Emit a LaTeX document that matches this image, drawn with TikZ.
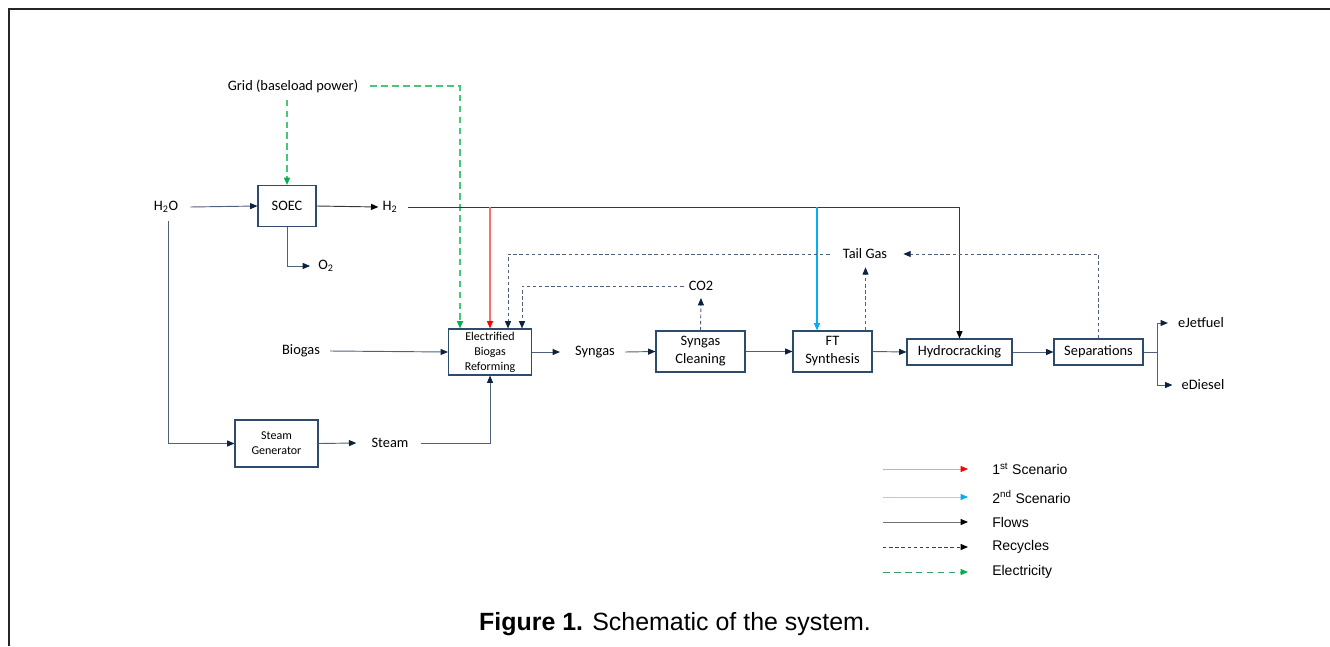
\documentclass[tikz,border=0pt]{standalone}
\usepackage{fontspec}
\setmainfont{Carlito}
\newfontfamily\legfont{Liberation Sans}
\usetikzlibrary{arrows.meta,calc}
\definecolor{boxc}{RGB}{47,75,108}
\definecolor{flowc}{RGB}{80,96,120}
\definecolor{headc}{RGB}{12,35,64}
\definecolor{hline}{RGB}{55,55,55}
\definecolor{redl}{RGB}{255,110,110}
\definecolor{redh}{RGB}{255,0,0}
\definecolor{bluel}{RGB}{0,176,240}
\definecolor{bluell}{RGB}{150,215,240}
\definecolor{greenl}{RGB}{70,200,120}
\definecolor{greenh}{RGB}{0,176,80}
\tikzset{
  box/.style 2 args={draw=boxc, line width=0.8pt, inner sep=0pt, align=center,
     minimum width=#1*0.75pt, minimum height=#2*0.75pt, font=\fontsize{10.8}{13.5}\selectfont},
  smallbox/.style={font=\fontsize{9}{11.3}\selectfont},
  lbl/.style={inner sep=0pt, font=\fontsize{10.8}{13}\selectfont},
  tip/.style={-{Triangle[length=5.5pt,width=4.5pt,color=#1]}},
  flow/.style={draw=flowc, line width=0.7pt, tip=headc},
  hflow/.style={draw=hline, line width=0.7pt, tip=black},
  redflow/.style={draw=redl, line width=0.95pt, tip=redh},
  blueflow/.style={draw=bluel, line width=0.9pt, tip=bluel},
  recyc/.style={draw=flowc, line width=0.7pt, dash pattern=on 2.6pt off 2pt, tip=headc},
  elec/.style={draw=greenl, line width=0.95pt, dash pattern=on 5pt off 3.2pt, tip=greenh},
  legtext/.style={inner sep=0pt, anchor=west, font=\legfont\fontsize{10.5}{13}\selectfont},
}
\begin{document}
\begin{tikzpicture}[x=0.75pt,y=-0.75pt]
\useasboundingbox (0,0) rectangle (1330,646);
% frame
\draw[line width=1.6pt, black!85] (9,646) -- (9,9) -- (1331,9);

% labels
\node[lbl] (grid) at (293,86) {Grid (baseload power)};
\node[lbl] (h2o) at (166,207) {H\textsubscript{2}O};
\node[lbl] (h2) at (390,207) {H\textsubscript{2}};
\node[lbl] (o2) at (326,266) {O\textsubscript{2}};
\node[lbl] (biogas) at (301,351) {Biogas};
\node[lbl] (steam) at (390,443) {Steam};
\node[lbl] (syngas) at (595,352) {Syngas};
\node[lbl] (co2) at (701,286) {CO2};
\node[lbl] (tail) at (865,254) {Tail Gas};
\node[lbl] (ejet) at (1201,323) {eJetfuel};
\node[lbl] (ediesel) at (1203,385) {eDiesel};

% boxes
\node[box={58}{41}] (soec) at (287,206) {SOEC};
\node[box={83}{47}, smallbox] (sg) at (276.5,443.5) {Steam\\Generator};
\node[box={83}{46}, smallbox] (ref) at (490,352) {Electrified\\Biogas\\Reforming};
\node[box={89}{41}] (clean) at (700.5,351.5) {Syngas\\Cleaning};
\node[box={79}{41}] (ft) at (832.5,351.5) {FT\\Synthesis};
\node[box={105}{26}] (hyd) at (959.5,352) {Hydrocracking};
\node[box={89}{26}] (sep) at (1098.5,352) {Separations};

% electricity
\draw[elec] ($(soec.north |- grid.south)+(0,7)$) -- (soec.north);
\draw[elec] ($(grid.east)+(12,0)$) -| ($(ref.north)+(-30,0)$);

% main flows
\draw[flow] ($(h2o.east)+(12,0)$) -- (soec.west);
\draw[hflow] (soec.east) -- ($(h2.west)+(-4,0)$);
\draw[hflow] ($(h2.east)+(10,0)$) -| (hyd.north);
\draw[redflow] (ref.north |- h2) -- (ref.north);
\coordinate (ftin) at ($(ft.north)+(-15.5,0)$);
\draw[blueflow] (ftin |- h2) -- (ftin);
\draw[flow] (soec.south) |- ($(o2.west)+(-8,0)$);
\draw[flow] ($(h2o.south)+(2,8)$) |- (sg.west);
\draw[flow] (sg.east) -- ($(steam.west)+(-15,0)$);
\draw[flow] ($(steam.east)+(12,0)$) -| (ref.south);
\draw[flow] ($(biogas.east)+(10,0)$) -- (ref.west);
\draw[flow] (ref.east) -- ($(syngas.west)+(-15,0)$);
\draw[flow] ($(syngas.east)+(10,0)$) -- (clean.west);
\draw[flow] (clean.east) -- (ft.west);
\draw[flow] (ft.east) -- (hyd.west);
\draw[flow] (hyd.east) -- (sep.west);
\coordinate (br) at ($(sep.east)+(14,0)$);
\draw[flow, -] (sep.east) -- (br);
\draw[flow] (br) |- ($(ejet.west)+(-10,0)$);
\draw[flow] (br) |- ($(ediesel.west)+(-9,0)$);

% recycles
\draw[recyc] (clean.north) -- ($(co2.south)+(0,7)$);
\draw[recyc] ($(co2.west)+(-5,0)$) -| ($(ref.north)+(32,0)$);
\coordinate (ftout) at ($(ft.north)+(33,0)$);
\coordinate (tailin) at ($(tail.south)+(0,8)$);
\draw[recyc] (ftout) -- (ftout |- tailin);
\draw[recyc] (sep.north) |- ($(tail.east)+(16,0)$);
\draw[recyc] ($(tail.west)+(-13,0)$) -| ($(ref.north)+(18,0)$);

% legend
\node[legtext] (lg1) at (992,469) {1\textsuperscript{st} Scenario};
\node[legtext] (lg2) at (992,497) {2\textsuperscript{nd} Scenario};
\node[legtext] (lg3) at (992,522) {Flows};
\node[legtext] (lg4) at (992,547) {Recycles};
\node[legtext] (lg5) at (992,572) {Electricity};
\draw[draw=redl!70, line width=0.7pt, tip=redh] ($(lg1.west)+(-109,0)$) -- ($(lg1.west)+(-24,0)$);
\draw[draw=bluell, line width=0.7pt, tip=bluel] ($(lg2.west)+(-109,0)$) -- ($(lg2.west)+(-24,0)$);
\draw[draw=black!55, line width=0.7pt, tip=black] ($(lg3.west)+(-109,0)$) -- ($(lg3.west)+(-24,0)$);
\draw[draw=black!75, line width=0.7pt, dash pattern=on 2.6pt off 2pt, tip=black] ($(lg4.west)+(-109,0)$) -- ($(lg4.west)+(-24,0)$);
\draw[draw=greenl!80!black, line width=0.7pt, dash pattern=on 5pt off 3.2pt, tip=greenh] ($(lg5.west)+(-109,0)$) -- ($(lg5.west)+(-24,0)$);

% caption
\node[inner sep=0pt, font=\legfont\fontsize{18.7}{22}\selectfont] (cap) at (675,624) {\textbf{Figure 1.} Schematic of the system.};
\end{tikzpicture}
\end{document}
